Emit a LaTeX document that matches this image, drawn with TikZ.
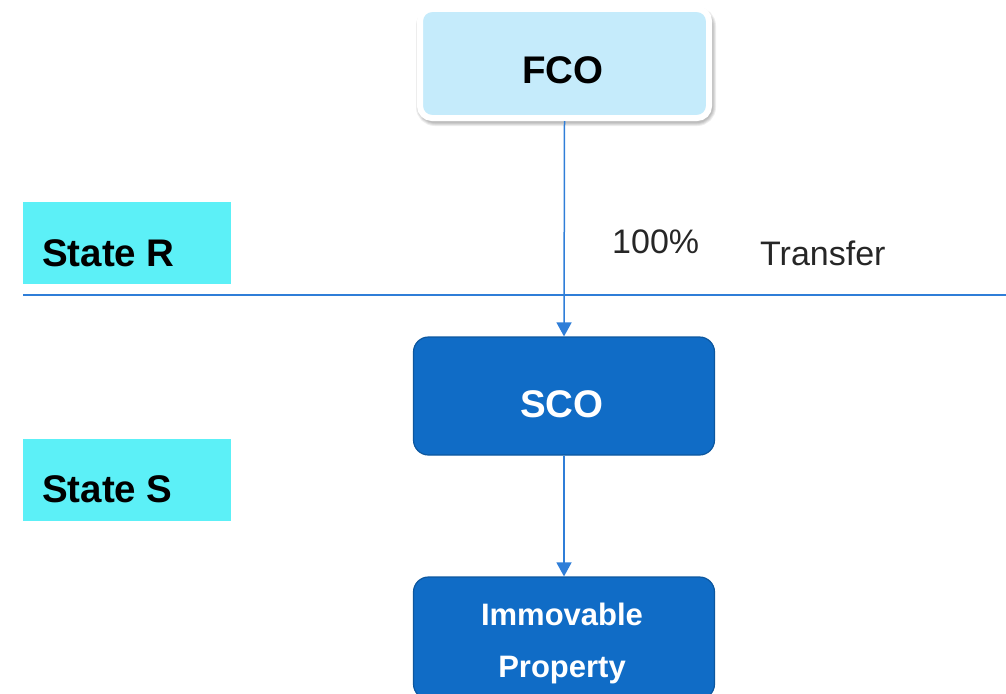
\documentclass[tikz,border=0pt]{standalone}
\usepackage{fontspec}
\setmainfont{Liberation Sans}
\usetikzlibrary{arrows.meta}
\definecolor{fcofill}{HTML}{C5EBFB}
\definecolor{bluefill}{HTML}{106CC6}
\definecolor{blueedge}{HTML}{0C579F}
\definecolor{statefill}{HTML}{5CF0F7}
\definecolor{linecol}{HTML}{2F7ED8}
\tikzset{
  fcobox/.style={rectangle, rounded corners=12pt, fill=fcofill, draw=white, line width=6pt,
    minimum width=289pt, minimum height=109pt, inner sep=0pt},
  shadowlayer/.style={draw=black, line width=#1, opacity=0.07, rounded corners=14pt},
  bluebox/.style={rectangle, rounded corners=15pt, fill=bluefill, draw=blueedge, line width=1.2pt,
    minimum width=301pt, inner sep=0pt},
  statebox/.style={rectangle, fill=statefill, minimum width=208pt, minimum height=82pt, inner sep=0pt},
  boldtxt/.style={font=\fontsize{38.5pt}{40pt}\selectfont\bfseries, inner sep=0pt, anchor=base},
  whitetxt/.style={font=\fontsize{31pt}{33pt}\selectfont\bfseries, text=white, inner sep=0pt, anchor=base},
  plaintxt/.style={font=\fontsize{34pt}{35pt}\selectfont, text=black!85, inner sep=0pt, anchor=base west},
  conn/.style={draw=linecol, line width=1.5pt, -{Triangle[width=15pt,length=14pt]}},
}
\begin{document}
\begin{tikzpicture}[x=1pt,y=-1pt]
\useasboundingbox (0,0) rectangle (1006,693);
\clip (0,0) rectangle (1006,693);
% state boxes
\node[statebox] (stateR) at (127,243) {};
\node[boldtxt, anchor=base west] (stateRt) at (42,266) {State R};
\node[statebox] (stateS) at (127,480) {};
\node[boldtxt, anchor=base west] (stateSt) at (42,502) {State S};
% divider
\coordinate (lineL) at (23,295);
\coordinate (lineR) at (1006,295);
\draw[linecol, line width=1.5pt] (lineL) -- (lineR);
% FCO soft shadow
\foreach \w in {10,8,6,4} {
  \draw[shadowlayer=\w pt] (421,12) rectangle (711,121);
}
\node[fcobox] (fco) at (564.5,63.5) {};
\node[boldtxt] (fcot) at (563,83) {FCO};
% blue boxes
\node[bluebox, minimum height=118pt] (sco) at (564,396) {};
\node[boldtxt, text=white] (scot) at (562,417) {SCO};
\node[bluebox, minimum height=122pt] (imm) at (564,638) {};
\node[whitetxt] (immt1) at (562,625) {Immovable};
\node[whitetxt] (immt2) at (562,677) {Property};
% labels
\node[plaintxt] (pct) at (612,253) {100\%};
\node[plaintxt] (trf) at (760,265) {Transfer};
% connectors
\draw[conn] (fco.south) -- (sco.north);
\draw[conn] (sco.south) -- (imm.north);
\end{tikzpicture}
\end{document}
